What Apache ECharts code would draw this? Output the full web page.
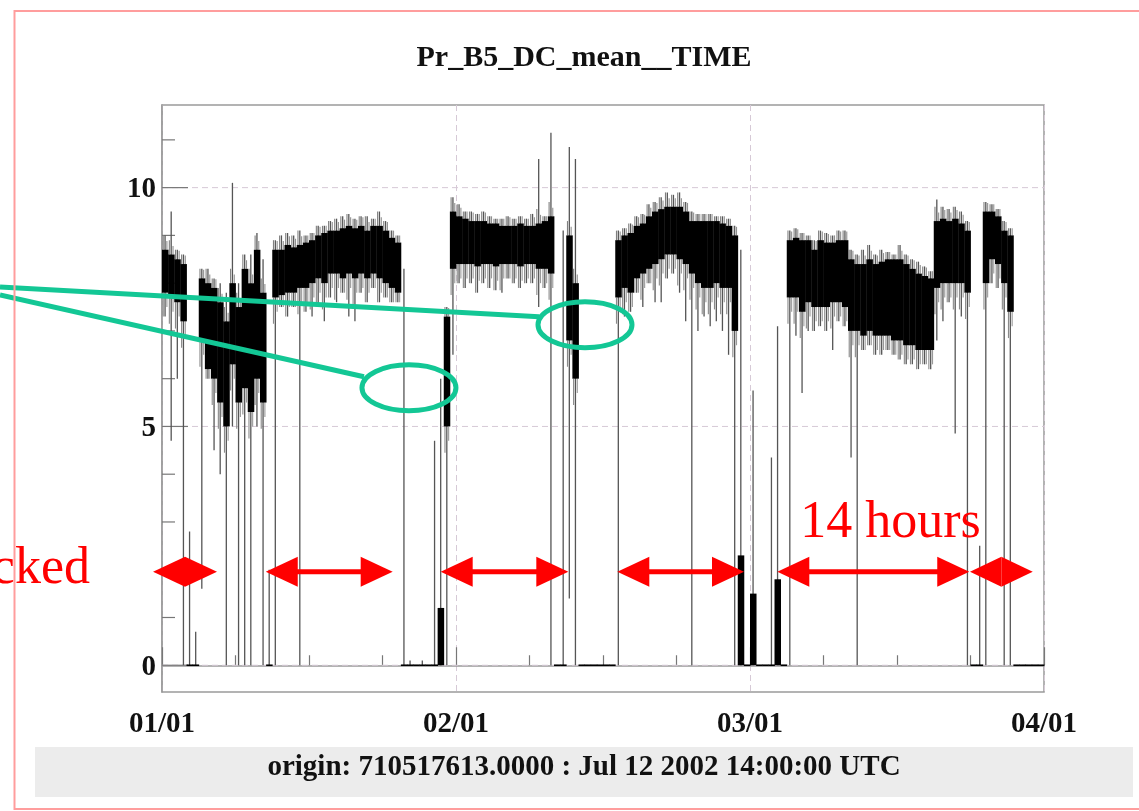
<!DOCTYPE html>
<html>
<head>
<meta charset="utf-8">
<script src="https://cdn.jsdelivr.net/npm/echarts@6/dist/echarts.min.js"></script>
<style>
  html, body { margin: 0; padding: 0; background: #ffffff; }
  #chart { width: 1139px; height: 811px; }
</style>
</head>
<body>
<div id="chart"></div>
<script>
// ---- labels -------------------------------------------------------------
const TITLE = 'Pr_B5_DC_mean__TIME';
const ORIGIN_TEXT = 'origin: 710517613.0000 : Jul 12 2002 14:00:00 UTC';
const xTickLabels = ['01/01', '02/01', '03/01', '04/01'];
const yMajorTicks = [0, 5, 10];
const yMinorTicks = [1, 2, 3, 4, 6, 7, 8, 9, 11];

// ---- signal, half-hour bins from 0 to 72 h ------------------------------
const BIN_HOURS = 0.5;
// dense part of the oscillation (solid band)
const coreLow = [
  7.8, 7.7, 7.6, 7.2, 0, 0, 6.8, 6.2, 6.0, 5.5, 5.0, 6.3, 5.5, 5.8, 5.3, 6.0, 5.5, 0,
  7.7, 7.75, 7.8, 7.8, 7.9, 7.9, 8.0, 8.1, 8.0, 8.2, 8.2, 8.1, 8.2, 8.1, 8.2, 8.1, 8.2, 8.1, 8.0, 7.9, 7.8,
  0, 0, 0, 0, 0, 0, 0, 5.0,
  8.3, 8.4, 8.4, 8.4, 8.35, 8.4, 8.4, 8.35, 8.4, 8.4, 8.4, 8.35, 8.4, 8.4, 8.3, 8.3, 8.2,
  0, 0, 6.8, 6.0, 0, 0, 0, 0, 0, 0,
  7.7, 7.9, 7.8, 8.1, 8.2, 8.3, 8.4, 8.5, 8.6, 8.6, 8.5, 8.4, 8.2, 8.0, 7.9, 7.9, 8.0, 7.9, 7.9, 7.0,
  0, 0, 0, 0, 0, 0, 0, 0,
  7.7, 7.7, 7.4, 7.6, 7.5, 7.5, 7.5, 7.6, 7.6, 7.5, 7.0, 7.0, 6.9, 7.0, 6.9, 6.9, 6.9, 6.8, 6.8, 6.7, 6.7, 6.6, 6.6, 6.6,
  7.9, 8.0, 8.0, 8.0, 8.0, 7.8,
  0, 0, 8.0, 8.5, 8.4, 8.0, 7.4,
  0, 0, 0, 0, 0
];
const coreHigh = [
  8.7, 8.6, 8.5, 8.4, 0, 0, 8.1, 8.0, 7.9, 7.6, 7.2, 8.0, 7.5, 8.3, 8.0, 8.7, 7.8, 0,
  8.7, 8.7, 8.8, 8.75, 8.8, 8.85, 8.9, 9.0, 9.05, 9.1, 9.1, 9.15, 9.2, 9.15, 9.2, 9.1, 9.2, 9.2, 9.1, 8.95, 8.85,
  0, 0, 0, 0, 0, 0, 1.2, 7.3,
  9.5, 9.4, 9.35, 9.3, 9.3, 9.3, 9.25, 9.25, 9.2, 9.2, 9.2, 9.25, 9.2, 9.2, 9.25, 9.3, 9.4,
  0, 0, 9.0, 8.0, 0, 0, 0, 0, 0, 0,
  8.9, 9.0, 9.05, 9.2, 9.25, 9.4, 9.5, 9.55, 9.6, 9.6, 9.6, 9.5, 9.3, 9.3, 9.3, 9.3, 9.3, 9.25, 9.2, 9.0,
  2.3, 0, 1.5, 0, 0, 0, 1.8, 0,
  8.9, 8.95, 8.9, 8.9, 8.7, 8.9, 8.85, 8.85, 8.9, 8.9, 8.5, 8.4, 8.4, 8.5, 8.4, 8.45, 8.5, 8.5, 8.5, 8.4, 8.3, 8.2, 8.15, 8.1,
  9.3, 9.35, 9.3, 9.35, 9.25, 9.1,
  0, 0, 9.5, 9.5, 9.4, 9.1, 9.0,
  0, 0, 0, 0, 0
];
// extreme readings inside each bin (thin spikes and drop-outs)
const spikeLow = [
  7.3, 4.7, 6.0, 0, 0, 0, 1.6, 6.0, 4.5, 4.0, 0, 5.0, 0, 0, 0, 5.0, 0, 0,
  0, 7.5, 7.3, 7.5, 0, 7.4, 7.3, 7.5, 7.2, 7.7, 7.6, 7.8, 7.3, 7.2, 7.8, 7.6, 7.9, 7.6, 7.7, 7.6, 7.6,
  0, 0, 0, 0, 0, 0, 0, 0,
  6.5, 8.0, 7.9, 8.0, 7.8, 8.0, 7.9, 7.85, 7.8, 8.1, 8.0, 7.9, 8.0, 8.0, 7.5, 7.9, 0,
  0, 0, 1.4, 0, 0, 0, 0, 0, 0, 0,
  0, 7.3, 7.4, 7.8, 7.5, 8.0, 7.6, 7.6, 8.1, 8.2, 7.8, 7.2, 0, 7.0, 7.3, 7.1, 7.2, 7.0, 6.5, 0,
  0, 0, 0, 0, 0, 0, 0, 0,
  0, 6.9, 5.7, 7.0, 7.0, 7.1, 7.0, 6.6, 7.2, 7.1, 4.35, 0, 6.6, 6.7, 6.5, 6.5, 6.6, 6.5, 6.4, 6.3, 6.3, 6.2, 6.3, 6.2,
  6.8, 7.2, 7.6, 4.85, 7.3, 0,
  0, 0, 0, 8.0, 7.9, 0, 0,
  0, 0, 0, 0, 0
];
const spikeHigh = [
  9.0, 9.5, 8.7, 8.6, 2.8, 0.7, 8.3, 8.3, 8.1, 8.0, 7.8, 10.1, 8.0, 8.6, 8.6, 9.05, 8.5, 2.0,
  8.9, 9.0, 9.05, 9.0, 9.1, 9.0, 9.05, 9.2, 9.2, 9.3, 9.35, 9.4, 9.45, 9.35, 9.4, 9.4, 9.35, 9.5, 9.3, 9.1, 9.0,
  8.3, 0.1, 0, 0.1, 0, 4.7, 6.0, 7.5,
  9.8, 9.65, 9.5, 9.5, 9.45, 9.5, 9.4, 9.35, 9.35, 9.4, 9.35, 9.4, 9.35, 9.45, 10.6, 9.4, 11.15,
  0, 9.1, 10.85, 10.6, 0, 0, 0, 0, 0, 0,
  9.1, 9.15, 9.25, 9.4, 9.45, 9.65, 9.7, 9.8, 9.9, 9.85, 9.9, 9.7, 9.5, 9.45, 9.45, 9.45, 9.4, 9.4, 9.35, 9.2,
  8.7, 0, 5.75, 0, 0, 4.35, 7.1, 0,
  9.1, 9.15, 9.05, 9.0, 8.9, 9.1, 9.05, 9.0, 9.1, 9.1, 8.7, 8.6, 8.7, 8.8, 8.6, 8.7, 8.65, 8.6, 8.8, 8.6, 8.5, 8.45, 8.35, 8.25,
  9.75, 9.6, 9.55, 9.6, 9.5, 9.3,
  0, 2.5, 9.7, 9.65, 9.55, 9.3, 9.15,
  0, 0, 0, 0, 0
];

// ---- annotations --------------------------------------------------------
const spanArrows = [[-0.73, 4.49], [8.47, 18.83], [22.75, 33.17], [37.17, 47.51], [50.23, 65.9], [65.96, 71.08]];
const ARROW_LEVEL = 1.96;
const circledSpots = [[20.16, 5.81], [34.53, 7.13]];   // [hour, value]
const hoursNote = { text: '14 hours', at: [52.1, 2.97] };
const sideNote = 'cked';

// ---- axis range ---------------------------------------------------------
const X_MIN = 0, X_MAX = 72, Y_MIN = -0.56, Y_MAX = 11.73;

const SERIF = '"Liberation Serif", "Times New Roman", serif';
const GREEN = '#13c795';
const RED = '#ff0000';

const bins = coreLow.map((lo, i) => [i * BIN_HOURS, (i + 1) * BIN_HOURS, lo, coreHigh[i], spikeLow[i], spikeHigh[i]]);
const yTickData = yMajorTicks.map(v => [X_MIN, v, 1]).concat(yMinorTicks.map(v => [X_MIN, v, 0]));

const chart = echarts.init(document.getElementById('chart'), null, { renderer: 'canvas' });

chart.setOption({
  backgroundColor: '#ffffff',
  animation: false,
  grid: { left: 162, top: 105, right: 95, bottom: 119, show: true, borderColor: '#9a9a9a', borderWidth: 1.5, backgroundColor: 'transparent' },
  xAxis: {
    type: 'value', min: X_MIN, max: X_MAX, interval: 24,
    axisLine: { show: true, lineStyle: { color: '#9a9a9a', width: 1.5 } },
    axisTick: { show: true, inside: true, length: 18, lineStyle: { color: '#777', width: 1.2 } },
    minorTick: { show: true, splitNumber: 4, length: 10, lineStyle: { color: '#777', width: 1.2 } },
    splitLine: { show: true, lineStyle: { color: '#d6c9d6', type: [6, 4], width: 1 } },
    axisLabel: {
      showMinLabel: true, showMaxLabel: true, margin: 18,
      formatter: v => xTickLabels[Math.round(v / 24)] || '',
      fontFamily: SERIF, fontWeight: 'bold', fontSize: 29, lineHeight: 29, color: '#111'
    }
  },
  yAxis: {
    type: 'value', min: Y_MIN, max: Y_MAX,
    axisLine: { show: true, lineStyle: { color: '#9a9a9a', width: 1.5 } },
    axisTick: { show: false }, axisLabel: { show: false }, splitLine: { show: false }
  },
  series: [
    {
      // y ticks, labels and dashed grid lines
      type: 'custom', coordinateSystem: 'cartesian2d', z: 1, clip: false, silent: true,
      encode: { x: 0, y: 1 },
      data: yTickData,
      renderItem(params, api) {
        const v = api.value(1);
        const major = api.value(2) === 1;
        const p = api.coord([X_MIN, v]);
        const q = api.coord([X_MAX, v]);
        const children = [];
        if (major) {
          children.push({ type: 'line', shape: { x1: p[0], y1: p[1], x2: q[0], y2: q[1] },
            style: { stroke: '#d6c9d6', lineWidth: 1, lineDash: [6, 4] } });
          children.push({ type: 'text', x: p[0] - 6, y: p[1] + 2,
            style: { text: String(v), align: 'right', verticalAlign: 'middle', fill: '#111',
              font: 'bold 29px ' + SERIF } });
        }
        children.push({ type: 'line', shape: { x1: p[0], y1: p[1], x2: p[0] + (major ? 26 : 13), y2: p[1] },
          style: { stroke: '#777', lineWidth: 1.2 } });
        return { type: 'group', children };
      }
    },
    {
      // readings scattered just outside the dense band, spikes and drop-outs
      type: 'custom', coordinateSystem: 'cartesian2d', z: 2, silent: true,
      encode: { x: [0, 1], y: [4, 5] },
      data: bins,
      renderItem(params, api) {
        const t0 = api.value(0), t1 = api.value(1);
        const lo = api.value(2), hi = api.value(3);
        const sLo = api.value(4), sHi = api.value(5);
        const children = [];
        const vline = (t, v0, v1, color, width) => {
          const a = api.coord([t, v0]);
          const b = api.coord([t, v1]);
          if (Math.abs(a[1] - b[1]) < 1) return;
          children.push({ type: 'line', shape: { x1: a[0], y1: a[1], x2: b[0], y2: b[1] },
            style: { stroke: color, lineWidth: width } });
        };
        if (hi > 3) {
          const w = t1 - t0;
          vline(t0 + 0.2 * w, hi, Math.min(sHi, hi + 0.3), '#808080', 1.1);
          vline(t0 + 0.2 * w, lo, Math.max(sLo, lo - 0.55), '#8a8a8a', 1.1);
          vline(t0 + 0.8 * w, hi, Math.min(sHi, hi + 0.18), '#909090', 1.1);
          vline(t0 + 0.8 * w, lo, Math.max(sLo, lo - 0.3), '#999999', 1.1);
        }
        vline((t0 + t1) / 2, sLo, sHi, '#555555', 1.3);
        return { type: 'group', children };
      }
    },
    {
      // dense band of the oscillating reading
      type: 'custom', coordinateSystem: 'cartesian2d', z: 3, silent: true,
      encode: { x: [0, 1], y: [2, 3] },
      data: bins,
      renderItem(params, api) {
        const a = api.coord([api.value(0), api.value(3)]);
        const b = api.coord([api.value(1), api.value(2)]);
        const raw = b[1] - a[1];
        const h = Math.max(raw, 1.6);
        return { type: 'rect', shape: { x: a[0], y: a[1] - (h - raw) / 2, width: b[0] - a[0] + 0.4, height: h },
          style: { fill: '#000000' } };
      }
    }
  ]
});

// ---- overlay drawings placed through the axis scales ---------------------
function px(h, v) { return chart.convertToPixel({ gridIndex: 0 }, [h, v]); }

const graphics = [];
// title and origin band
graphics.push({ type: 'text', x: 584, y: 58, z: 50,
  style: { text: TITLE, align: 'center', verticalAlign: 'middle', fill: '#111', font: 'bold 30px ' + SERIF } });
graphics.push({ type: 'rect', shape: { x: 35, y: 747, width: 1098, height: 50 }, z: 40,
  style: { fill: '#ececec' } });
graphics.push({ type: 'text', x: 584, y: 768, z: 50,
  style: { text: ORIGIN_TEXT, align: 'center', verticalAlign: 'middle', fill: '#111', font: 'bold 29px ' + SERIF } });

// double-headed arrows marking the running periods
const HEAD_LEN = 32, HEAD_HALF = 15;
spanArrows.forEach(([h0, h1]) => {
  const a = px(h0, ARROW_LEVEL), b = px(h1, ARROW_LEVEL);
  const y = a[1];
  const len = b[0] - a[0];
  const head = Math.min(HEAD_LEN, len / 2);
  if (len > 2 * head) {
    graphics.push({ type: 'line', z: 60, shape: { x1: a[0] + head - 2, y1: y, x2: b[0] - head + 2, y2: y },
      style: { stroke: RED, lineWidth: 5 } });
  }
  graphics.push({ type: 'polygon', z: 61, shape: { points: [[a[0], y], [a[0] + head, y - HEAD_HALF], [a[0] + head, y + HEAD_HALF]] },
    style: { fill: RED } });
  graphics.push({ type: 'polygon', z: 61, shape: { points: [[b[0], y], [b[0] - head, y - HEAD_HALF], [b[0] - head, y + HEAD_HALF]] },
    style: { fill: RED } });
});

// circled spots with their pointer lines
const RX = 47, RY = 23;
const lineStarts = [[0, 295], [0, 287]];
circledSpots.forEach(([h, v], i) => {
  const c = px(h, v);
  graphics.push({ type: 'ellipse', z: 62, shape: { cx: c[0], cy: c[1], rx: RX, ry: RY },
    style: { fill: 'none', stroke: GREEN, lineWidth: 5 } });
  const end = i === 0 ? [c[0] - RX + 2, c[1] - 11] : [c[0] - RX + 1, c[1] - 8];
  graphics.push({ type: 'line', z: 62, shape: { x1: lineStarts[i][0], y1: lineStarts[i][1], x2: end[0], y2: end[1] },
    style: { stroke: GREEN, lineWidth: 5 } });
});

// red notes
const hp = px(hoursNote.at[0], hoursNote.at[1]);
graphics.push({ type: 'text', x: hp[0], y: hp[1], z: 63,
  style: { text: hoursNote.text, align: 'left', verticalAlign: 'middle', fill: RED, font: '52px ' + SERIF } });
graphics.push({ type: 'text', x: 90, y: 569, z: 63,
  style: { text: sideNote, align: 'right', verticalAlign: 'middle', fill: RED, font: '52px ' + SERIF } });

// page frame
graphics.push({ type: 'rect', z: 70, shape: { x: 14.5, y: 11, width: 1140, height: 798 },
  style: { fill: 'none', stroke: '#ff9d9d', lineWidth: 2 } });

chart.setOption({ graphic: graphics });
</script>
</body>
</html>
